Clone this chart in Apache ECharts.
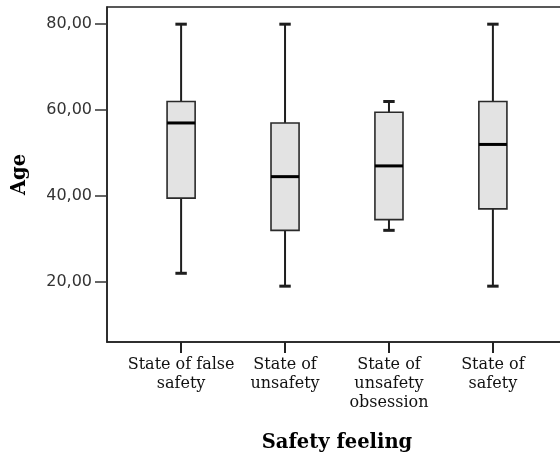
<!DOCTYPE html>
<html>
<head>
<meta charset="utf-8">
<script src="https://cdn.jsdelivr.net/npm/echarts@6/dist/echarts.min.js"></script>
<style>
  html, body { margin: 0; padding: 0; background: #fff; }
  #chart { width: 560px; height: 456px; }
</style>
</head>
<body>
<div id="chart"></div>
<script>
// Age distribution per safety-feeling group (box-and-whisker summary)
const categories = ['State of false safety', 'State of unsafety', 'State of unsafety obsession', 'State of safety'];
const categoryLabels = ['State of false\nsafety', 'State of\nunsafety', 'State of\nunsafety\nobsession', 'State of\nsafety'];
const whiskerLow  = [22, 19, 32, 19];
const quartile1   = [39.5, 32, 34.5, 37];
const medians     = [57, 44.5, 47, 52];
const quartile3   = [62, 57, 59.5, 62];
const whiskerHigh = [80, 80, 62, 80];
const yTicks = [20, 40, 60, 80];

const BOX_WIDTH = 0.27;   // in category units
const CAP_WIDTH = 0.11;
const LINE = '#1e1e1e';

const boxData = categories.map((c, i) => [i, whiskerLow[i], quartile1[i], medians[i], quartile3[i], whiskerHigh[i]]);

function renderBox(params, api) {
  const x = api.value(0);
  const pMin = api.coord([x, api.value(1)]);
  const pQ1 = api.coord([x, api.value(2)]);
  const pMed = api.coord([x, api.value(3)]);
  const pQ3 = api.coord([x, api.value(4)]);
  const pMax = api.coord([x, api.value(5)]);
  const bw = api.size([BOX_WIDTH, 0])[0];
  const cw = api.size([CAP_WIDTH, 0])[0];
  const cx = pMed[0];
  const whisker = { stroke: LINE, lineWidth: 2 };
  const cap = { stroke: LINE, lineWidth: 3 };
  return {
    type: 'group',
    children: [
      { type: 'line', shape: { x1: cx, y1: pQ3[1], x2: cx, y2: pMax[1] }, style: whisker },
      { type: 'line', shape: { x1: cx, y1: pQ1[1], x2: cx, y2: pMin[1] }, style: whisker },
      { type: 'line', shape: { x1: cx - cw / 2, y1: pMax[1], x2: cx + cw / 2, y2: pMax[1] }, style: cap },
      { type: 'line', shape: { x1: cx - cw / 2, y1: pMin[1], x2: cx + cw / 2, y2: pMin[1] }, style: cap },
      { type: 'rect', shape: { x: cx - bw / 2, y: pQ3[1], width: bw, height: pQ1[1] - pQ3[1] },
        style: { fill: '#e3e3e3', stroke: '#2a2a2a', lineWidth: 1.6 } },
      { type: 'line', shape: { x1: cx - bw / 2, y1: pMed[1], x2: cx + bw / 2, y2: pMed[1] },
        style: { stroke: '#000', lineWidth: 3 } }
    ]
  };
}

const chart = echarts.init(document.getElementById('chart'), null, { renderer: 'canvas' });
chart.setOption({
  animation: false,
  backgroundColor: '#fff',
  grid: {
    left: 107, top: 7, bottom: 114, width: 460,
    containLabel: false,
    outerBoundsMode: 'none',
    show: true, borderColor: '#222', borderWidth: 1.5, backgroundColor: 'transparent'
  },
  xAxis: {
    type: 'value',
    min: -0.713, max: 3.713,
    name: 'Safety feeling',
    nameLocation: 'middle',
    nameGap: 91,
    nameTextStyle: { fontFamily: 'DejaVu Serif', fontWeight: 'bold', fontSize: 19.5, color: '#000' },
    splitLine: { show: false },
    axisLine: { show: true, onZero: false, lineStyle: { color: '#222', width: 1.5 } },
    axisTick: { show: true, customValues: [0, 1, 2, 3], length: 11, lineStyle: { color: '#222', width: 2 } },
    axisLabel: {
      customValues: [0, 1, 2, 3],
      formatter: v => categoryLabels[Math.round(v)] || '',
      fontFamily: 'DejaVu Serif', fontSize: 16, lineHeight: 19, color: '#111', margin: 13
    }
  },
  yAxis: {
    type: 'value',
    min: 6, max: 84,
    name: 'Age',
    nameLocation: 'middle',
    nameRotate: 90,
    nameGap: 77,
    nameTextStyle: { fontFamily: 'DejaVu Serif', fontWeight: 'bold', fontSize: 19.5, color: '#000' },
    splitLine: { show: false },
    axisLine: { show: true, onZero: false, lineStyle: { color: '#222', width: 1.5 } },
    axisTick: { show: true, customValues: yTicks, length: 12, lineStyle: { color: '#333', width: 1.5 } },
    axisLabel: {
      customValues: yTicks,
      formatter: v => v.toFixed(2).replace('.', ','),
      fontFamily: 'DejaVu Sans', fontSize: 16, color: '#333', margin: 15
    }
  },
  series: [{
    type: 'custom',
    renderItem: renderBox,
    encode: { x: 0, y: [1, 2, 3, 4, 5] },
    data: boxData,
    clip: false
  }]
});
</script>
</body>
</html>
